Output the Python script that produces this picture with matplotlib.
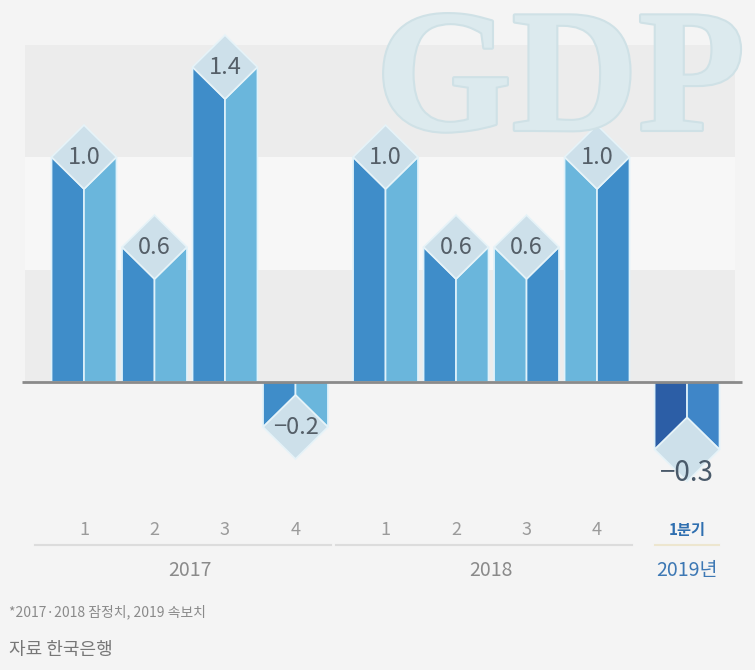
import matplotlib.pyplot as plt
import matplotlib.transforms as mtransforms
import matplotlib.patheffects as pe
from matplotlib.patches import Polygon

plt.rcParams['font.family'] = ['Noto Sans CJK KR', 'DejaVu Sans']

# data
years = ['2017', '2018', '2019년']
quarters = ['1', '2', '3', '4', '1', '2', '3', '4', '1분기']
values = [1.0, 0.6, 1.4, -0.2, 1.0, 0.6, 0.6, 1.0, -0.3]
labels = ['1.0', '0.6', '1.4', '−0.2', '1.0', '0.6', '0.6', '1.0', '−0.3']
group = [0, 0, 0, 0, 1, 1, 1, 1, 2]
note = '*2017·2018 잠정치, 2019 속보치'
source = '자료 한국은행'

# which side of each bar is the dark face
dark_left = [True, True, True, True, True, True, False, False, True]

gap = 0.277
pos = [i + gap * g for i, g in enumerate(group)]
width = 0.92
cap = 0.142

bg = '#f4f4f4'
fig = plt.figure(figsize=(7.55, 6.7), dpi=100, facecolor=bg)
ax = fig.add_axes([0, 0, 1, 1])
ax.set_facecolor(bg)
ax.set_xlim(-84 / 70.5, (755 - 84) / 70.5)
ax.set_ylim(-1.28, 1.698)
ax.axis('off')

# shaded bands
x0f, x1f = 25 / 755, 735 / 755
ax.axhspan(0, 0.5, x0f, x1f, color='#ececec', zorder=0, lw=0)
ax.axhspan(0.5, 1.0, x0f, x1f, color='#f7f7f7', zorder=0, lw=0)
ax.axhspan(1.0, 1.5, x0f, x1f, color='#ececec', zorder=0, lw=0)

# watermark
fig.text(0.742, 0.806, 'GDP', fontsize=126, family='Liberation Serif',
         fontweight='bold', color='#dceaee', ha='center', va='baseline',
         zorder=0.5,
         path_effects=[pe.withStroke(linewidth=3, foreground='#cfe1e6')])

for i, (x, v) in enumerate(zip(pos, values)):
    l, r = x - width / 2, x + width / 2
    last = i == len(values) - 1
    if last:
        c_dark, c_light = '#2c5ea6', '#3f86c8'
    else:
        c_dark, c_light = '#3f8dc9', '#6ab6dc'
    cl, cr = (c_dark, c_light) if dark_left[i] else (c_light, c_dark)
    inner = v - cap if v > 0 else v + cap
    ax.add_patch(Polygon([(l, 0), (l, v), (x, inner), (x, 0)], closed=True,
                         fc=cl, ec='#dff2fb', lw=1.2, zorder=2))
    ax.add_patch(Polygon([(x, 0), (x, inner), (r, v), (r, 0)], closed=True,
                         fc=cr, ec='#dff2fb', lw=1.2, zorder=2))
    ax.add_patch(Polygon([(l, v), (x, v + cap), (r, v), (x, v - cap)], closed=True,
                         fc='#cde0ea', ec='#e6f3f8', lw=1.2, zorder=3))
    if last:
        ax.text(x, v - cap * 0.75, labels[i], ha='center', va='center',
                fontsize=20, color='#4a5a6a', zorder=4)
    else:
        ax.text(x, v, labels[i], ha='center', va='center',
                fontsize=17, color='#555f68', zorder=4)

ax.plot([22 / 70.5 - 84 / 70.5, 742 / 70.5 - 84 / 70.5], [0, 0],
        color='#8a8a8a', lw=2, zorder=5, solid_capstyle='butt')

tr = mtransforms.blended_transform_factory(ax.transData, fig.transFigure)
for i, (x, q) in enumerate(zip(pos, quarters)):
    if i == len(quarters) - 1:
        ax.text(x, 0.209, q, transform=tr, ha='center', va='center',
                fontsize=11, color='#2f6fb0', fontweight='bold')
    else:
        ax.text(x, 0.209, q, transform=tr, ha='center', va='center',
                fontsize=13, color='#9a9a9a')

for g, name in enumerate(years):
    xs = [p for p, gg in zip(pos, group) if gg == g]
    a, b = xs[0] - 0.7, xs[-1] + 0.5
    if g == 2:
        a, b = xs[0] - 0.45, xs[-1] + 0.45
        lc = '#ede6cf'
        tc = '#3d78b4'
    else:
        lc = '#dcdcdc'
        tc = '#8a8a8a'
    ax.plot([a, b], [0.187, 0.187], transform=tr, color=lc, lw=1.5)
    ax.text((xs[0] + xs[-1]) / 2, 0.148, name, transform=tr, ha='center',
            va='center', fontsize=14, color=tc)

fig.text(0.012, 0.087, note, fontsize=10, color='#8a8a8a', ha='left', va='center')
fig.text(0.012, 0.03, source, fontsize=13, color='#777777', ha='left', va='center')

fig.savefig('out.png', dpi=100, facecolor=bg)
